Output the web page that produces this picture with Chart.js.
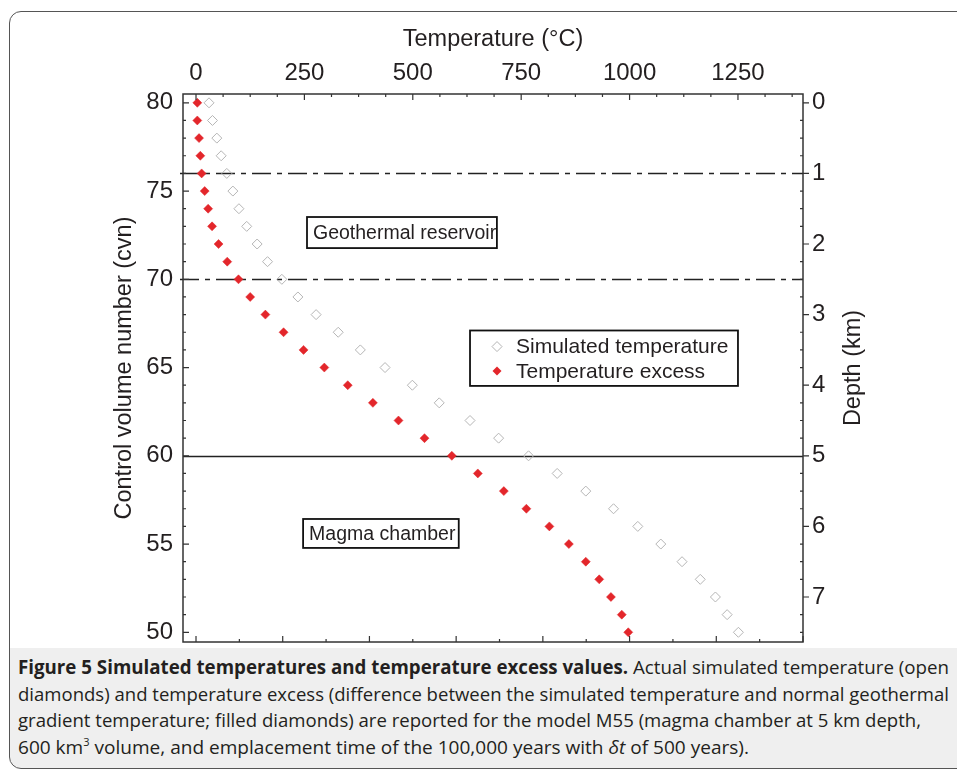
<!DOCTYPE html>
<html>
<head>
<meta charset="utf-8">
<script src="https://cdn.jsdelivr.net/npm/chart.js@4/dist/chart.umd.min.js"></script>
<style>
  html, body { margin: 0; padding: 0; background: #fff; }
  body { width: 957px; height: 771px; overflow: hidden; position: relative; }
  #frame { position: absolute; left: 9px; top: 11px; width: 990px; height: 758px; border: 1.5px solid #555; border-radius: 12px; box-sizing: border-box; }
  #caption { position: absolute; left: 10px; top: 648px; width: 990px; height: 120px; background: #efefef; border-bottom-left-radius: 11px; }
  #chartBox { position: absolute; left: 0; top: 0; }
  .cap { position: absolute; left: 8px; white-space: nowrap; font-family: "Open Sans", sans-serif; font-size: 19px; line-height: 26px; color: #231f20; transform-origin: 0 0; }
  .cap b { font-weight: 700; }
  .cap sup { font-size: 11px; vertical-align: 8px; line-height: 0; }
</style>
</head>
<body>
<div id="caption">
  <div class="cap" style="top:6px"><b>Figure 5 Simulated temperatures and temperature excess values.</b> Actual simulated temperature (open</div>
  <div class="cap" style="top:33px">diamonds) and temperature excess (difference between the simulated temperature and normal geothermal</div>
  <div class="cap" style="top:59px">gradient temperature; filled diamonds) are reported for the model M55 (magma chamber at 5 km depth,</div>
  <div class="cap" style="top:86px">600 km<sup>3</sup> volume, and emplacement time of the 100,000 years with <i>δt</i> of 500 years).</div>
</div>
<div id="frame"></div>
<div id="chartBox"><canvas id="chart" width="957" height="680"></canvas></div>
<script>
// control volume numbers (top of model = 80)
const cvn = [80, 79, 78, 77, 76, 75, 74, 73, 72, 71, 70, 69, 68, 67, 66, 65, 64, 63, 62, 61, 60,
             59, 58, 57, 56, 55, 54, 53, 52, 51, 50];
// simulated temperature, open diamonds (°C)
const simTemp = [30, 38, 48, 58, 71, 85, 99, 117, 141, 165, 198, 235, 277, 328, 379, 436, 499, 561, 632, 698, 767,
                 833, 899, 963, 1019, 1072, 1121, 1163, 1198, 1225, 1251];
// temperature excess, filled diamonds (°C)
const excessTemp = [3, 3, 7, 10, 13, 20, 28, 37, 52, 72, 98, 125, 160, 202, 248, 296, 350, 408, 467, 527, 590,
                    650, 710, 762, 815, 860, 899, 930, 957, 982, 997];

const tempTicks = [0, 250, 500, 750, 1000, 1250];
const cvnTicks = [50, 55, 60, 65, 70, 75, 80];
const depthTicks = [0, 1, 2, 3, 4, 5, 6, 7];
// zone boundaries (cvn): reservoir top, reservoir bottom, magma chamber top
const dashedBounds = [76, 70];
const solidBounds = [60];

const ink = '#231f20';
const red = '#e3262b';
const tickFont = { family: 'Liberation Sans, Arial, sans-serif', size: 24 };

function diamond(ctx, x, y, r, fill, stroke) {
    ctx.beginPath();
    ctx.moveTo(x - r, y); ctx.lineTo(x, y - r); ctx.lineTo(x + r, y); ctx.lineTo(x, y + r);
    ctx.closePath();
    if (fill) { ctx.fillStyle = fill; ctx.fill(); }
    if (stroke) { ctx.strokeStyle = stroke; ctx.lineWidth = 1; ctx.stroke(); }
}

const decorPlugin = {
    id: 'decor',
    beforeDatasetsDraw(chart) {
        const { ctx, chartArea: a, scales } = chart;
        const y = scales.y;
        ctx.save();
        ctx.strokeStyle = '#222';
        ctx.lineWidth = 1.3;
        ctx.setLineDash([19, 6, 5, 6]);
        dashedBounds.forEach(v => {
            const py = Math.round(y.getPixelForValue(v)) + 0.5;
            ctx.beginPath(); ctx.moveTo(a.left - 3, py); ctx.lineTo(a.right, py); ctx.stroke();
        });
        ctx.setLineDash([]);
        solidBounds.forEach(v => {
            const py = Math.round(y.getPixelForValue(v)) + 0.5;
            ctx.beginPath(); ctx.moveTo(a.left, py); ctx.lineTo(a.right, py); ctx.stroke();
        });
        ctx.restore();
    },
    afterDatasetsDraw(chart) {
        const { ctx, scales } = chart;
        const x = scales.x, y = scales.y;
        ctx.save();
        ctx.font = '19.5px "Liberation Sans", Arial, sans-serif';
        ctx.textBaseline = 'middle';
        ctx.fillStyle = ink;
        // annotation boxes, placed in data units
        const boxes = [
            { text: 'Geothermal reservoir', t0: 256, t1: 694, c0: 73.53, c1: 71.77 },
            { text: 'Magma chamber', t0: 247, t1: 606, c0: 56.42, c1: 54.78 }
        ];
        boxes.forEach(b => {
            const l = x.getPixelForValue(b.t0), r = x.getPixelForValue(b.t1);
            const t = y.getPixelForValue(b.c0), bt = y.getPixelForValue(b.c1);
            ctx.fillStyle = '#fff';
            ctx.fillRect(l, t, r - l, bt - t);
            ctx.fillStyle = ink;
            ctx.textAlign = 'left';
            ctx.fillText(b.text, l + 6, (t + bt) / 2 + 1);
            ctx.strokeStyle = '#111';
            ctx.lineWidth = 1.8;
            ctx.strokeRect(l, t, r - l, bt - t);
        });
        // legend box
        const lx0 = x.getPixelForValue(632), lx1 = x.getPixelForValue(1250);
        const ly0 = y.getPixelForValue(67.1), ly1 = y.getPixelForValue(63.96);
        ctx.fillStyle = '#fff';
        ctx.fillRect(lx0, ly0, lx1 - lx0, ly1 - ly0);
        ctx.strokeStyle = '#111';
        ctx.lineWidth = 1.8;
        ctx.strokeRect(lx0, ly0, lx1 - lx0, ly1 - ly0);
        const row1 = ly0 + (ly1 - ly0) * 0.29, row2 = ly0 + (ly1 - ly0) * 0.73;
        diamond(ctx, lx0 + 27, row1, 5, '#fff', '#b5b5b5');
        diamond(ctx, lx0 + 27, row2, 4.5, red, null);
        ctx.font = '21px "Liberation Sans", Arial, sans-serif';
        ctx.fillStyle = ink;
        ctx.textAlign = 'left';
        ctx.fillText('Simulated temperature', lx0 + 46, row1 + 1);
        ctx.fillText('Temperature excess', lx0 + 46, row2 + 1);
        ctx.restore();
    },
    afterDraw(chart) {
        const { ctx, chartArea: a, scales } = chart;
        ctx.save();
        ctx.strokeStyle = '#333';
        ctx.lineWidth = 1.5;
        ctx.strokeRect(a.left, a.top, a.right - a.left, a.bottom - a.top);
        ctx.lineWidth = 1.2;
        ctx.beginPath();
        // top axis: major 250, minor 62.5, inward
        for (let v = 0; v <= scales.x.max; v += 62.5) {
            const px = scales.x.getPixelForValue(v);
            const len = v % 250 === 0 ? 6 : 3;
            ctx.moveTo(px, a.top); ctx.lineTo(px, a.top + len);
        }
        // bottom axis: major 200, minor 100, inward
        for (let v = 0; v <= scales.x2.max; v += 100) {
            const px = scales.x2.getPixelForValue(v);
            const len = v % 200 === 0 ? 6 : 3;
            ctx.moveTo(px, a.bottom); ctx.lineTo(px, a.bottom - len);
        }
        // left axis: major 5, minor 1, inward
        for (let v = 50; v <= 80; v++) {
            const py = scales.y.getPixelForValue(v);
            const len = v % 5 === 0 ? 6 : 3;
            ctx.moveTo(a.left, py); ctx.lineTo(a.left + len, py);
        }
        // right axis: major 1 km outward, minor 0.25 km inward
        for (let d = 0; d <= 7.5; d += 0.25) {
            const py = scales.y2.getPixelForValue(d);
            if (d % 1 === 0) { ctx.moveTo(a.right, py); ctx.lineTo(a.right + 6, py); }
            else { ctx.moveTo(a.right, py); ctx.lineTo(a.right - 3, py); }
        }
        ctx.stroke();

        // axis titles
        ctx.fillStyle = ink;
        ctx.font = '23.5px "Liberation Sans", Arial, sans-serif';
        ctx.textAlign = 'center';
        ctx.textBaseline = 'middle';
        ctx.fillText('Temperature (°C)', 493, 40);
        ctx.save();
        ctx.translate(125, (a.top + a.bottom) / 2);
        ctx.rotate(-Math.PI / 2);
        ctx.fillText('Control volume number (cvn)', 0, 0);
        ctx.restore();
        ctx.save();
        ctx.translate(854, (a.top + a.bottom) / 2);
        ctx.rotate(-Math.PI / 2);
        ctx.fillText('Depth (km)', 0, 0);
        ctx.restore();
        ctx.restore();
    }
};

new Chart(document.getElementById('chart'), {
    type: 'scatter',
    data: {
        datasets: [
            {
                label: 'Simulated temperature',
                data: cvn.map((c, i) => ({ x: simTemp[i], y: c })),
                pointStyle: 'rectRot',
                pointRadius: 5,
                backgroundColor: 'rgba(255,255,255,0)',
                borderColor: '#b5b5b5',
                borderWidth: 1,
                xAxisID: 'x', yAxisID: 'y'
            },
            {
                label: 'Temperature excess',
                data: cvn.map((c, i) => ({ x: excessTemp[i], y: c })),
                pointStyle: 'rectRot',
                pointRadius: 4.5,
                backgroundColor: red,
                borderColor: red,
                borderWidth: 0.5,
                xAxisID: 'x', yAxisID: 'y'
            }
        ]
    },
    options: {
        responsive: false,
        animation: false,
        devicePixelRatio: 1,
        layout: { padding: 0 },
        plugins: { legend: { display: false }, tooltip: { enabled: false } },
        scales: {
            x: {
                type: 'linear', position: 'top', min: -30, max: 1400,
                afterBuildTicks: s => { s.ticks = tempTicks.map(v => ({ value: v })); },
                afterFit: s => { s.height = 94; },
                grid: { display: false, drawTicks: false },
                border: { display: false },
                ticks: { color: ink, font: tickFont, padding: 6, maxRotation: 0, callback: v => v }
            },
            x2: {
                type: 'linear', position: 'bottom', min: -30, max: 1400,
                afterFit: s => { s.height = 38; },
                grid: { display: false, drawTicks: false },
                border: { display: false },
                ticks: { display: false }
            },
            y: {
                type: 'linear', position: 'left', min: 49.45, max: 80.5,
                afterBuildTicks: s => { s.ticks = cvnTicks.map(v => ({ value: v })); },
                afterFit: s => { s.width = 183; },
                grid: { display: false, drawTicks: false },
                border: { display: false },
                ticks: { color: ink, font: tickFont, padding: 10 }
            },
            y2: {
                type: 'linear', position: 'right', reverse: true,
                min: (80 - 80.5) / 4, max: (80 - 49.45) / 4,
                afterBuildTicks: s => { s.ticks = depthTicks.map(v => ({ value: v })); },
                afterFit: s => { s.width = 154; },
                grid: { display: false, drawTicks: false },
                border: { display: false },
                ticks: { color: ink, font: tickFont, padding: 9 }
            }
        }
    },
    plugins: [decorPlugin]
});

// squeeze caption lines to the widths of the printed figure
const capWidths = [931, 931, 903, 731];
document.querySelectorAll('.cap').forEach((el, i) => {
    const w = el.getBoundingClientRect().width;
    el.style.transform = 'scaleX(' + (capWidths[i] / w) + ')';
});
</script>
</body>
</html>
